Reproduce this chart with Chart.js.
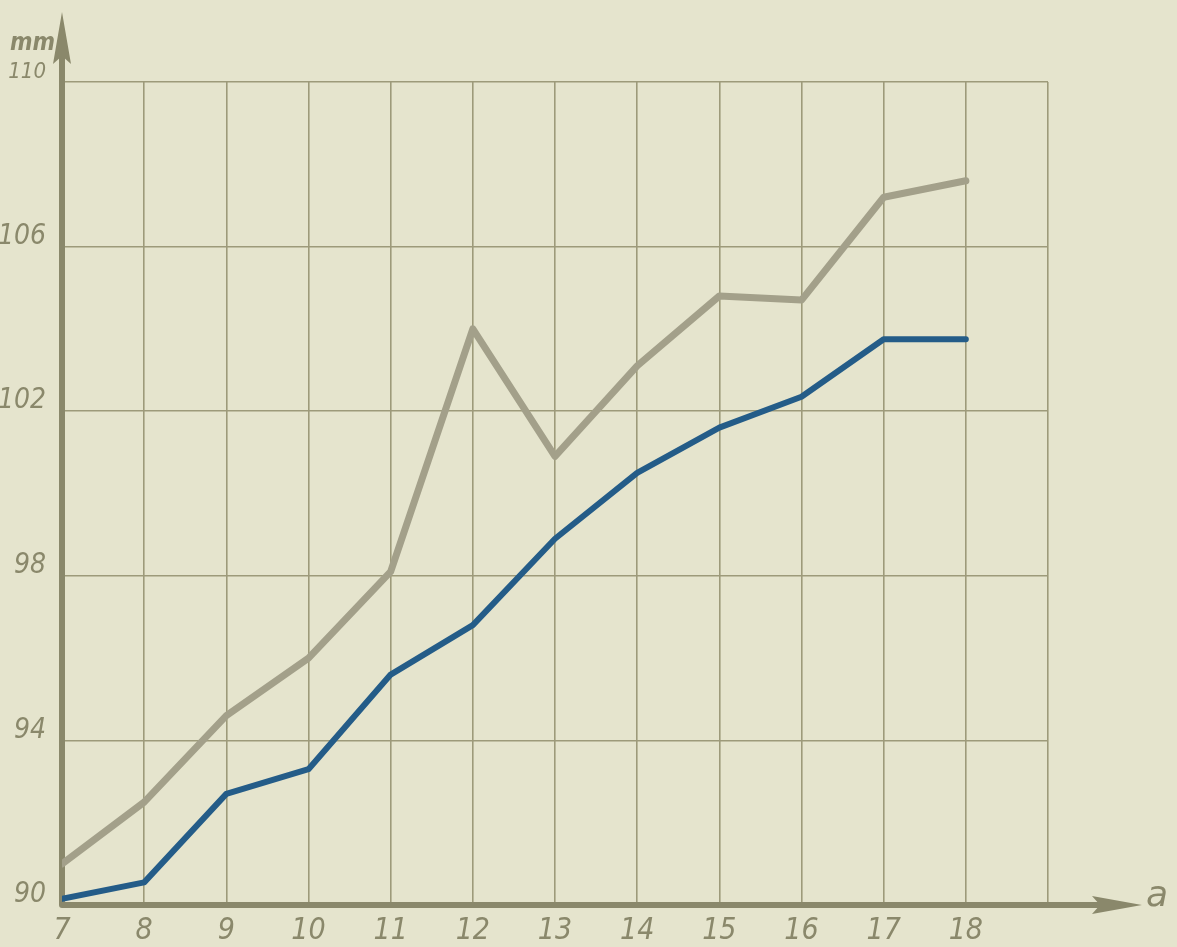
<!DOCTYPE html>
<html>
<head>
<meta charset="utf-8">
<script src="https://cdn.jsdelivr.net/npm/chart.js@4/dist/chart.umd.min.js"></script>
<style>
    html, body { margin: 0; padding: 0; background: #e5e4cd; }
    #wrap { width: 1177px; height: 947px; position: relative; }
</style>
</head>
<body>
<div id="wrap"><canvas id="chart"></canvas></div>
<script>
// age (a) on the x axis, mm on the y axis
const ages = [7, 8, 9, 10, 11, 12, 13, 14, 15, 16, 17, 18];
const upper = [91.0, 92.5, 94.6, 96.0, 98.1, 104.0, 100.9, 103.1, 104.8, 104.7, 107.2, 107.6];
const lower = [90.15, 90.55, 92.7, 93.3, 95.6, 96.8, 98.9, 100.5, 101.6, 102.35, 103.75, 103.75];
const yTicks = [90, 94, 98, 102, 106, 110];

const ink = '#8a886b';
const gridInk = '#9d9a7a';
const family = '"DejaVu Sans Condensed", "DejaVu Sans", sans-serif';

const toPoints = vals => vals.map((v, i) => ({ x: ages[i], y: v }));

// axes with arrow heads plus the axis titles, drawn round the plot area
const axesPlugin = {
    id: 'axes',
    beforeDatasetsDraw(chart) {
        const { ctx, scales: { x, y } } = chart;
        const x0 = x.getPixelForValue(7);
        const y0 = y.getPixelForValue(90);
        ctx.save();
        ctx.strokeStyle = ink;
        ctx.fillStyle = ink;
        ctx.lineWidth = 6;
        ctx.lineCap = 'round';

        ctx.beginPath();
        ctx.moveTo(x0, y0);
        ctx.lineTo(x0, 40);
        ctx.moveTo(x0, y0);
        ctx.lineTo(1110, y0);
        ctx.stroke();

        ctx.beginPath();
        ctx.moveTo(x0, 12);
        ctx.lineTo(x0 + 9, 64);
        ctx.lineTo(x0, 56);
        ctx.lineTo(x0 - 9, 64);
        ctx.closePath();
        ctx.fill();

        ctx.beginPath();
        ctx.moveTo(1142, y0);
        ctx.lineTo(1092, y0 - 9);
        ctx.lineTo(1100, y0);
        ctx.lineTo(1092, y0 + 9);
        ctx.closePath();
        ctx.fill();

        ctx.font = 'italic bold 24px ' + family;
        ctx.textAlign = 'left';
        ctx.textBaseline = 'alphabetic';
        ctx.fillText('mm', 10, 50);
        ctx.font = 'italic 36px "DejaVu Sans", sans-serif';
        ctx.fillText('a', 1146, 906);
        ctx.restore();
    },
};

new Chart(document.getElementById('chart'), {
    type: 'line',
    data: {
        datasets: [
            {
                label: 'upper',
                data: toPoints(upper),
                borderColor: '#a3a08a',
                borderWidth: 7,
            },
            {
                label: 'lower',
                data: toPoints(lower),
                borderColor: '#245c88',
                borderWidth: 6,
            },
        ],
    },
    options: {
        responsive: true,
        maintainAspectRatio: false,
        animation: false,
        layout: { padding: { top: 82, right: 129, left: 0, bottom: 0 } },
        elements: {
            point: { radius: 0 },
            line: { tension: 0, borderCapStyle: 'round', borderJoinStyle: 'round' },
        },
        plugins: {
            legend: { display: false },
            tooltip: { enabled: false },
        },
        scales: {
            x: {
                type: 'linear',
                min: 7,
                max: 19,
                afterFit: s => { s.height = 42; },
                border: { display: false },
                grid: {
                    color: c => (c.tick.value === 7 ? 'transparent' : gridInk),
                    lineWidth: 1.6,
                    drawTicks: false,
                },
                ticks: {
                    stepSize: 1,
                    padding: 8,
                    color: ink,
                    font: { family, size: 30, style: 'italic' },
                    callback: v => (v === 19 ? '' : v),
                },
            },
            y: {
                min: 90,
                max: 110,
                afterFit: s => { s.width = 62; },
                afterBuildTicks: s => { s.ticks = yTicks.map(v => ({ value: v })); },
                border: { display: false },
                grid: {
                    color: c => (c.tick.value === 90 ? 'transparent' : gridInk),
                    lineWidth: 1.6,
                    drawTicks: false,
                },
                ticks: {
                    padding: 16,
                    labelOffset: -10,
                    color: ink,
                    font: c => ({
                        family,
                        size: c.tick && c.tick.value === 110 ? 22 : 28,
                        style: 'italic',
                    }),
                },
            },
        },
    },
    plugins: [axesPlugin],
});
</script>
</body>
</html>
